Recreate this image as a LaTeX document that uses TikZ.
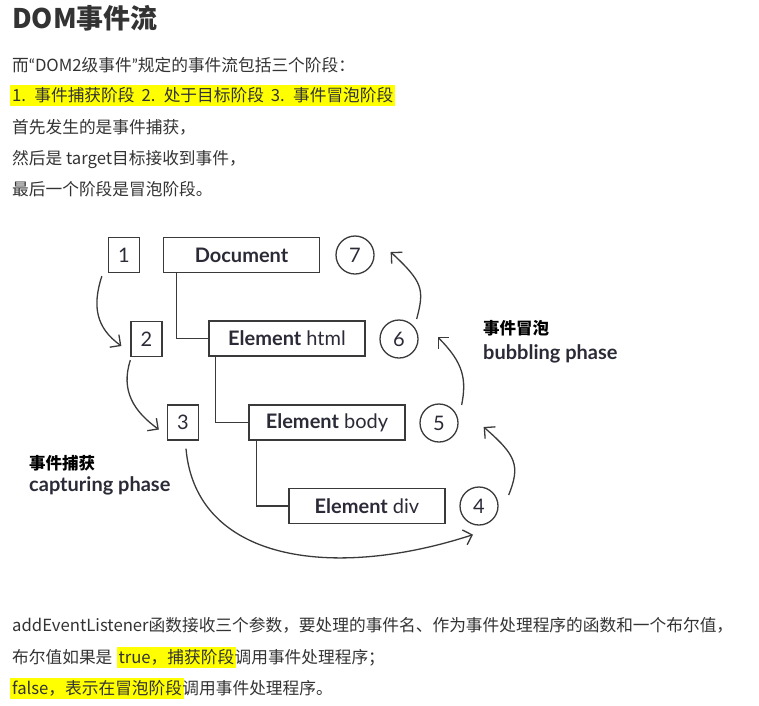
\documentclass[tikz,border=0pt]{standalone}
\usepackage{fontspec}
\setmainfont{Noto Sans CJK SC}
\newfontfamily\diagfont{Lato}
\usetikzlibrary{arrows.meta,positioning}
\definecolor{bodytext}{HTML}{333333}
\definecolor{linegray}{HTML}{3A3A3A}
\definecolor{labelink}{HTML}{2B2B38}
\definecolor{hlyellow}{HTML}{FFFF00}

\begin{document}
\begin{tikzpicture}[x=1pt,y=1pt]
\tikzstyle{txt} = [
	anchor=base west,
	inner sep=0pt,
	text=bodytext,
	font=\fontsize{16.7}{20}\selectfont
];
\tikzstyle{hl} = [txt, fill=hlyellow, inner xsep=2pt, text height=16pt, text depth=5pt];
\tikzstyle{numbox} = [
	draw=linegray, %border of the box
	line width=1.3pt,
	minimum width=31pt,
	minimum height=35pt,
	inner sep=0pt,
	text=labelink,
	font=\diagfont\fontsize{20}{22}\selectfont
];
\tikzstyle{elbox} = [numbox, minimum width=156pt];
\tikzstyle{numcirc} = [numbox, circle, minimum size=38pt];
\tikzstyle{phase} = [anchor=base west, inner sep=0pt, text=labelink, font=\diagfont\bfseries\fontsize{20}{22}\selectfont];
\tikzstyle{phasecn} = [anchor=base west, inner sep=0pt, text=black, font=\bfseries\fontsize{16.5}{18}\selectfont];
\tikzstyle{flow} = [-{Straight Barb[angle=90:11pt]}];

\useasboundingbox (0,0) rectangle (759,-705);

%heading and text above
\node[txt, font=\bfseries\fontsize{27}{30}\selectfont] (title) at (12,-28) {DOM事件流};
\node[txt] (intro) at (12,-71) {而{\diagfont “}DOM2级事件{\diagfont ”}规定的事件流包括三个阶段：};
\node[hl] (phases) at (10,-101) {\spaceskip=0.42em\relax 1. 事件捕获阶段 2. 处于目标阶段 3. 事件冒泡阶段};
\node[txt] (first) at (12,-133) {首先发生的是事件捕获，};
\node[txt] (then) at (12,-164) {然后是 target目标接收到事件，};
\node[txt] (last) at (12,-195) {最后一个阶段是冒泡阶段。};

%tree
\node[numbox](n1) at (124,-255) {1};
\node[elbox](doc) at (241.5,-255) {\textbf{Document}};
\node[numcirc](n7) at (355,-255) {7};
\node[numbox](n2) at (146.5,-339) {2};
\node[elbox](html) at (287,-338.5) {\textbf{Element} html};
\node[numcirc](n6) at (399,-339) {6};
\node[numbox](n3) at (183,-422.5) {3};
\node[elbox](body) at (327,-422.5) {\textbf{Element} body};
\node[numcirc](n5) at (439,-423) {5};
\node[elbox](div) at (367,-506) {\textbf{Element} div};
\node[numcirc](n4) at (479,-506) {4};

\draw[line width=1.3pt, color=linegray]
	([xshift=13.5pt]doc.south west) |- (html.west)
	([xshift=7pt]html.south west) |- (body.west)
	([xshift=8pt]body.south west) |- (div.west)
;

%capturing phase
\draw[line width=1.3pt, color=linegray]
	([shift={(-6,-3)}]n1.south west) edge[flow, out=-108, in=144, out distance=32pt, in distance=31pt] ([shift={(-9,-7)}]n2.west)
	([shift={(0,-3)}]n2.south west) edge[flow, out=-108, in=144, out distance=32pt, in distance=31pt] ([shift={(-8,-7)}]n3.west)
	([shift={(3,-8)}]n3.south) edge[flow, out=-85, in=198, out distance=112pt, in distance=150pt] ([shift={(-6,-9)}]n4.south)
;

%bubbling phase
\draw[line width=1.3pt, color=linegray]
	([shift={(10,11)}]n4.east) edge[flow, out=68, in=-41, out distance=32pt, in distance=43pt] ([shift={(25,-4)}]n5.east)
	([shift={(3,18)}]n5.east) edge[flow, out=79, in=-45, out distance=26pt, in distance=37pt] ([shift={(19,2)}]n6.east)
	([shift={(-2,20)}]n6.east) edge[flow, out=75, in=-43, out distance=31pt, in distance=44pt] ([shift={(16,3)}]n7.east)
;

\node[phasecn](capcn) at (29,-469) {事件捕获};
\node[phase](capen) at (29,-491) {capturing phase};
\node[phasecn](bubcn) at (483,-334) {事件冒泡};
\node[phase](buben) at (483,-359) {bubbling phase};

%text below
\node[txt] (params) at (12,-631) {addEventListener函数接收三个参数，要处理的事件名、作为事件处理程序的函数和一个布尔值，};
\node[txt] (tr1) at (12,-663) {布尔值如果是\ \ };
\node[hl] (tr2) at (tr1.base east) {true，捕获阶段};
\node[txt] (tr3) at ([xshift=-2pt]tr2.base east) {调用事件处理程序；};
\node[hl] (fa1) at (10,-694) {false，表示在冒泡阶段};
\node[txt] (fa2) at ([xshift=-2pt]fa1.base east) {调用事件处理程序。};
\end{tikzpicture}
\end{document}
